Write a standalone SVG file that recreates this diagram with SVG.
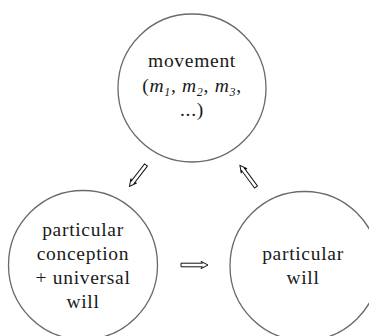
<svg xmlns="http://www.w3.org/2000/svg" width="369" height="336" viewBox="0 0 369 336">
<style>
.node circle{fill:#fff;stroke:#6a6a6a;stroke-width:1.3}
.node text{font-family:"Liberation Serif","Times New Roman",serif;font-size:19.5px;fill:#1a1a1a;text-anchor:middle;letter-spacing:0.7px}
.arr{fill:#fff;stroke:#111;stroke-width:1;stroke-linejoin:miter}
</style>
<defs>
<path id="dbl" d="M0,-1.8 H21.5 L20,-3.6 L27,0 L20,3.6 L21.5,1.8 H0 Z"/>
</defs>
<rect width="369" height="336" fill="#fff"/>
<g id="n-movement" class="node">
<circle cx="192" cy="88" r="74"/>
<text x="192" y="67">movement</text>
<text x="192" y="92">(<tspan font-style="italic">m</tspan><tspan font-style="italic" font-size="12" dy="4">1</tspan><tspan dy="-4">, </tspan><tspan font-style="italic">m</tspan><tspan font-style="italic" font-size="12" dy="4">2</tspan><tspan dy="-4">, </tspan><tspan font-style="italic">m</tspan><tspan font-style="italic" font-size="12" dy="4">3</tspan><tspan dy="-4">,</tspan></text>
<text x="192" y="116">...)</text>
</g>
<g id="n-conception" class="node">
<circle cx="83" cy="265" r="74.5"/>
<text x="83" y="236">particular</text>
<text x="83" y="260">conception</text>
<text x="83" y="284">+ universal</text>
<text x="83" y="308">will</text>
</g>
<g id="n-will" class="node">
<circle cx="304.5" cy="266" r="74.5"/>
<text x="303" y="260">particular</text>
<text x="303" y="284">will</text>
</g>
<g id="connectors">
<use href="#dbl" class="arr" transform="translate(146,165) rotate(127.7)"/>
<use href="#dbl" class="arr" transform="translate(181,265)"/>
<use href="#dbl" class="arr" transform="translate(256,187) rotate(-126.5)"/>
</g>
</svg>
